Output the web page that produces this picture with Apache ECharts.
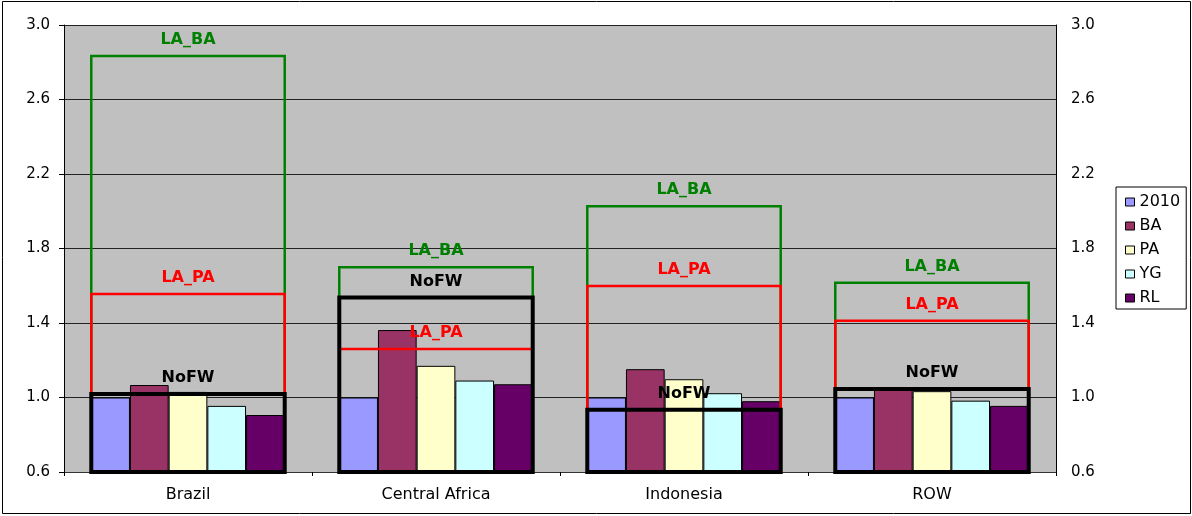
<!DOCTYPE html>
<html>
<head>
<meta charset="utf-8">
<script src="https://cdn.jsdelivr.net/npm/echarts@6/dist/echarts.min.js"></script>
<style>
  html, body { margin: 0; padding: 0; background: #fff; }
  #chart { width: 1192px; height: 516px; }
</style>
</head>
<body>
<div id="chart"></div>
<script>
// Regions on the category axis
const categories = ['Brazil', 'Central Africa', 'Indonesia', 'ROW'];

// Bar series (index relative to 2010)
const s2010 = [1.0, 1.0, 1.0, 1.0];
const sBA   = [1.067, 1.362, 1.152, 1.050];
const sPA   = [1.030, 1.170, 1.098, 1.034];
const sYG   = [0.955, 1.091, 1.023, 0.983];
const sRL   = [0.906, 1.071, 0.980, 0.955];

// Outline boxes drawn over each group of bars
const noFW = [1.019, 1.537, 0.934, 1.045];
const laPA = [1.556, 1.260, 1.599, 1.412];
const laBA = [2.834, 1.700, 2.027, 1.616];

// Value axis range and tick step
const yMin = 0.6;
const yMax = 3.0;
const yStep = 0.4;

const GROUP_GAP = 0.22;
const FONT = 'DejaVu Sans';

function barSeries(name, data, color) {
  return {
    name: name,
    type: 'bar',
    data: data,
    barGap: '0%',
    barCategoryGap: (GROUP_GAP * 100) + '%',
    itemStyle: { color: color, borderColor: '#000', borderWidth: 1 },
    z: 2
  };
}

function boxSeries(name, data, color, lineWidth, z) {
  return {
    name: name,
    type: 'custom',
    data: data.map((v, i) => [i, v]),
    z: z,
    silent: true,
    renderItem: function (params, api) {
      const top = api.coord([api.value(0), api.value(1)]);
      const base = api.coord([api.value(0), yMin]);
      const w = api.size([1, 0])[0] * (1 - GROUP_GAP);
      return {
        type: 'group',
        children: [
          {
            type: 'rect',
            shape: { x: top[0] - w / 2, y: top[1], width: w, height: base[1] - top[1] },
            style: { fill: 'none', stroke: color, lineWidth: lineWidth }
          },
          {
            type: 'text',
            style: {
              text: name,
              x: top[0],
              y: top[1] - 16,
              align: 'center',
              verticalAlign: 'middle',
              fill: color,
              font: 'bold 16px "' + FONT + '"'
            }
          }
        ]
      };
    }
  };
}

const chart = echarts.init(document.getElementById('chart'), null, { renderer: 'canvas' });

const axisLabelStyle = { color: '#000', fontFamily: FONT, fontSize: 15 };

chart.setOption({
  animation: false,
  backgroundColor: '#fff',
  textStyle: { fontFamily: FONT },
  grid: { left: 64, right: 136, top: 25, bottom: 44, containLabel: false,
          show: true, backgroundColor: '#c0c0c0', borderWidth: 0 },
  legend: {
    data: ['2010', 'BA', 'PA', 'YG', 'RL'],
    orient: 'vertical',
    left: 1116,
    top: 187,
    backgroundColor: '#fff',
    borderColor: '#000',
    borderWidth: 1,
    borderRadius: 0,
    padding: [7, 6, 3, 9],
    itemWidth: 9,
    itemHeight: 8,
    itemGap: 8,
    icon: 'rect',
    itemStyle: { borderColor: '#000', borderWidth: 1 },
    textStyle: { color: '#000', fontFamily: FONT, fontSize: 16, lineHeight: 16 }
  },
  xAxis: {
    type: 'category',
    data: categories,
    axisLine: { show: true, lineStyle: { color: '#333', width: 1 } },
    axisTick: { show: true, length: 4, lineStyle: { color: '#000' } },
    axisLabel: { color: '#000', fontFamily: FONT, fontSize: 16, margin: 15 },
    splitLine: { show: false }
  },
  yAxis: [
    {
      type: 'value',
      min: yMin, max: yMax, interval: yStep,
      position: 'left',
      axisLine: { show: true, lineStyle: { color: '#000', width: 1 } },
      axisTick: { show: true, inside: false, length: 5, lineStyle: { color: '#000' } },
      axisLabel: Object.assign({ margin: 14, formatter: v => v.toFixed(1) }, axisLabelStyle),
      splitLine: { show: true, lineStyle: { color: '#222', width: 1 } }
    },
    {
      type: 'value',
      min: yMin, max: yMax, interval: yStep,
      position: 'right',
      axisLine: { show: true, lineStyle: { color: '#000', width: 1 } },
      axisTick: { show: false },
      axisLabel: Object.assign({ margin: 15, formatter: v => v.toFixed(1) }, axisLabelStyle),
      splitLine: { show: false }
    }
  ],
  graphic: [
    {
      type: 'rect',
      shape: { x: 2.5, y: 1.5, width: 1188, height: 512 },
      style: { fill: 'none', stroke: '#000', lineWidth: 1 },
      silent: true,
      z: 100
    }
  ],
  series: [
    barSeries('2010', s2010, '#9999ff'),
    barSeries('BA', sBA, '#993366'),
    barSeries('PA', sPA, '#ffffcc'),
    barSeries('YG', sYG, '#ccffff'),
    barSeries('RL', sRL, '#660066'),
    boxSeries('LA_BA', laBA, '#008000', 2.5, 5),
    boxSeries('LA_PA', laPA, '#ff0000', 2.5, 6),
    boxSeries('NoFW', noFW, '#000000', 4, 7)
  ]
});
</script>
</body>
</html>
